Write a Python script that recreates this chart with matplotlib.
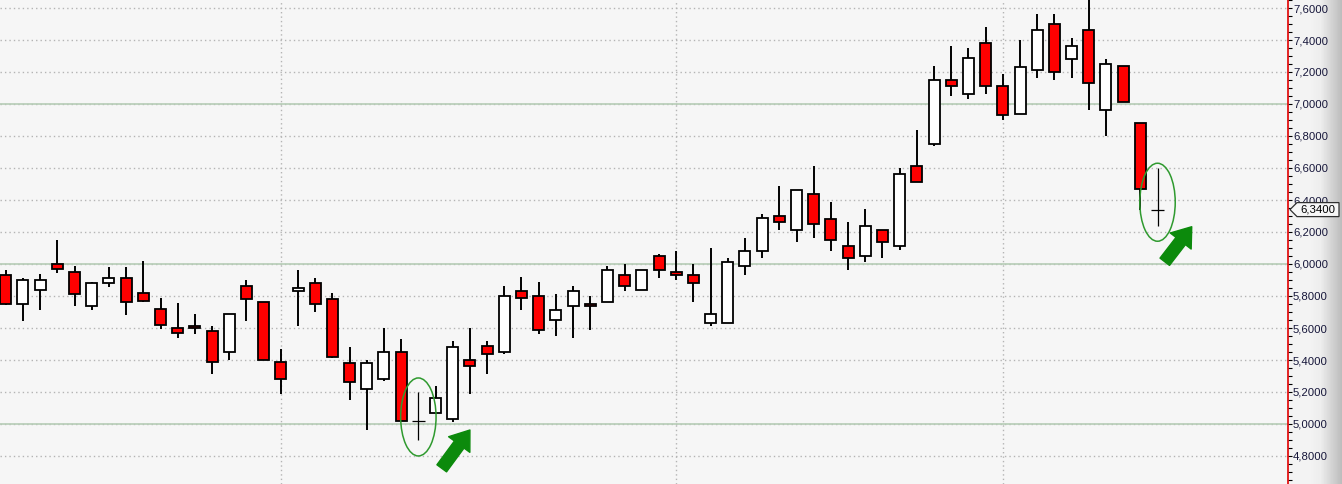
import numpy as np
import matplotlib
matplotlib.use("Agg")
import matplotlib.pyplot as plt
from matplotlib.patches import Ellipse, FancyArrowPatch, Polygon
from matplotlib.ticker import MultipleLocator, FuncFormatter
import matplotlib.transforms as mtransforms

# dados OHLC (68 candles)
abertura = [5.93, 5.75, 5.84, 6.00, 5.95, 5.735, 5.88, 5.91, 5.82, 5.72,
            5.60, 5.61, 5.58, 5.45, 5.865, 5.76, 5.385, 5.83, 5.88, 5.78,
            5.38, 5.22, 5.28, 5.45, 5.02, 5.07, 5.03, 5.40, 5.485, 5.45,
            5.83, 5.80, 5.65, 5.735, 5.75, 5.76, 5.93, 5.835, 6.05, 5.95,
            5.93, 5.63, 5.63, 5.985, 6.08, 6.30, 6.215, 6.435, 6.28, 6.11,
            6.05, 6.21, 6.115, 6.61, 6.75, 7.15, 7.065, 7.38, 7.11, 6.935,
            7.21, 7.50, 7.28, 7.46, 6.96, 7.235, 6.88, 6.34]
maxima = [5.96, 5.91, 5.94, 6.15, 5.99, 5.89, 5.98, 5.98, 6.02, 5.79,
          5.755, 5.685, 5.61, 5.69, 5.90, 5.76, 5.47, 5.96, 5.91, 5.82,
          5.48, 5.40, 5.60, 5.53, 5.20, 5.235, 5.52, 5.60, 5.52, 5.86,
          5.92, 5.885, 5.815, 5.86, 5.80, 5.985, 6.00, 5.965, 6.065, 6.08,
          6.00, 6.10, 6.035, 6.165, 6.315, 6.485, 6.465, 6.615, 6.385, 6.265,
          6.345, 6.21, 6.60, 6.84, 7.235, 7.36, 7.35, 7.48, 7.185, 7.40,
          7.56, 7.56, 7.415, 7.68, 7.28, 7.235, 6.88, 6.60]
minima = [5.745, 5.645, 5.71, 5.945, 5.74, 5.71, 5.855, 5.68, 5.765, 5.595,
          5.535, 5.56, 5.315, 5.40, 5.645, 5.40, 5.19, 5.615, 5.70, 5.41,
          5.15, 4.965, 5.27, 5.02, 4.90, 5.065, 5.01, 5.19, 5.31, 5.435,
          5.71, 5.565, 5.55, 5.535, 5.585, 5.76, 5.83, 5.835, 5.915, 5.90,
          5.765, 5.61, 5.63, 5.93, 6.035, 6.21, 6.135, 6.16, 6.08, 5.965,
          6.015, 6.035, 6.085, 6.51, 6.735, 7.05, 7.03, 7.065, 6.90, 6.935,
          7.16, 7.15, 7.165, 6.965, 6.80, 7.015, 6.335, 6.235]
fechamento = [5.75, 5.90, 5.90, 5.97, 5.81, 5.88, 5.91, 5.76, 5.77, 5.62,
              5.57, 5.60, 5.385, 5.685, 5.78, 5.40, 5.28, 5.85, 5.75, 5.42,
              5.26, 5.38, 5.45, 5.02, 5.02, 5.16, 5.48, 5.36, 5.435, 5.80,
              5.785, 5.585, 5.71, 5.83, 5.735, 5.965, 5.865, 5.965, 5.96, 5.93,
              5.88, 5.685, 6.015, 6.08, 6.285, 6.26, 6.465, 6.25, 6.15, 6.035,
              6.235, 6.135, 6.565, 6.515, 7.15, 7.11, 7.285, 7.11, 6.93, 7.23,
              7.46, 7.20, 7.365, 7.13, 7.25, 7.015, 6.47, 6.34]

ultimo_preco = 6.34
linhas_verdes = [5.0, 6.0, 7.0]
divisoes_mes = [16, 39, 58]          # linhas verticais pontilhadas
destaques = [(24, 5.044), (67, 6.386)]   # elipses verdes
setas = [((25.36, 4.723), (27.0, 4.9625)), ((67.42, 6.014), (68.99, 6.233))]

n = len(abertura)
x = np.arange(n)
o = np.array(abertura)
c = np.array(fechamento)
h = np.array(maxima)
l = np.array(minima)

W, H, DPI = 1342, 484, 100
fig = plt.figure(figsize=(W / DPI, H / DPI), dpi=DPI)
fig.patch.set_facecolor("#f4f4f4")

# faixa da escala com degrade cinza
eixo_px = 1288
bg = fig.add_axes([eixo_px / W, 0, 1 - eixo_px / W, 1], zorder=-1)
grad = np.concatenate([np.full(20, 0.955), np.linspace(0.955, 0.93, 12),
                       np.linspace(0.93, 0.74, 22)])
bg.imshow(np.tile(grad, (2, 1)), cmap="gray", vmin=0, vmax=1, aspect="auto",
          extent=(0, 1, 0, 1))
bg.set_axis_off()

ax = fig.add_axes([0, 0, eixo_px / W, 1])
ax.set_facecolor("#f6f6f6")
ax.set_xlim(-0.337, 74.59)
ax.set_ylim(4.625, 7.65)

# grade
for v in np.arange(4.8, 7.61, 0.2):
    ax.axhline(v, color="#b4b4b4", lw=1, ls=(0, (1, 2.2)), zorder=0)
for d in divisoes_mes:
    ax.axvline(d, color="#b4b4b4", lw=1, ls=(0, (1, 2.2)), zorder=0)
for v in linhas_verdes:
    ax.axhline(v, color="#b6ccb6", lw=1.2, zorder=1)

# candles
doji = np.abs(c - o) < 0.005
alta = c > o
ax.vlines(x[~doji], l[~doji], h[~doji], color="black", lw=1.4, zorder=2)
ax.vlines(x[doji], l[doji], h[doji], color="black", lw=0.9, zorder=2)
ax.hlines(c[doji], x[doji] - 0.36, x[doji] + 0.36, color="black", lw=0.9, zorder=3)
corpo = ~doji
cores = np.where(alta, "white", "#ff0000")
ax.bar(x[corpo], (c - o)[corpo], bottom=o[corpo], width=0.64,
       color=cores[corpo], edgecolor="black", linewidth=1.3, zorder=3)

# elipses e setas
for cx, cy in destaques:
    ax.add_patch(Ellipse((cx, cy), 2.06, 0.4875, fill=False,
                         edgecolor="#2f9a2f", lw=1.1, zorder=4))
for a, b in setas:
    ax.add_patch(FancyArrowPatch(a, b, arrowstyle="simple,head_length=13,head_width=19,tail_width=8.6",
                                 mutation_scale=1, shrinkA=0, shrinkB=0,
                                 color="#0c8a0c", zorder=5))

# eixo de precos a direita
for s in ["left", "top", "bottom"]:
    ax.spines[s].set_visible(False)
ax.spines["right"].set_color("#e00000")
ax.spines["right"].set_linewidth(1.2)
ax.set_xticks([])
ax.yaxis.tick_right()
ax.yaxis.set_major_locator(MultipleLocator(0.2))
ax.yaxis.set_minor_locator(MultipleLocator(0.05))
ax.yaxis.set_major_formatter(FuncFormatter(lambda v, p: f"{v:.4f}".replace(".", ",")))
ax.tick_params(axis="y", which="both", direction="out", length=2.6, width=0.8,
               color="black", pad=1)
ax.tick_params(axis="y", which="major", labelsize=8.2, labelcolor="#16163a")
for t in ax.get_yticklabels():
    t.set_fontfamily("Liberation Sans")

# etiqueta do ultimo preco
tr = mtransforms.blended_transform_factory(ax.transAxes, ax.transData)
px = lambda p: p / eixo_px
meia = 7 / 160
ax.add_patch(Polygon([(px(1290), ultimo_preco), (px(1297), ultimo_preco + meia),
                      (px(1339), ultimo_preco + meia), (px(1339), ultimo_preco - meia),
                      (px(1297), ultimo_preco - meia)], closed=True, transform=tr,
                     facecolor="#f7f7f7", edgecolor="#303030", lw=0.9,
                     clip_on=False, zorder=10))
ax.text(px(1318), ultimo_preco, f"{ultimo_preco:.4f}".replace(".", ","), transform=tr,
        ha="center", va="center", fontsize=8.2, family="Liberation Sans",
        color="black", zorder=11, clip_on=False)

fig.savefig("out.png", dpi=DPI)
